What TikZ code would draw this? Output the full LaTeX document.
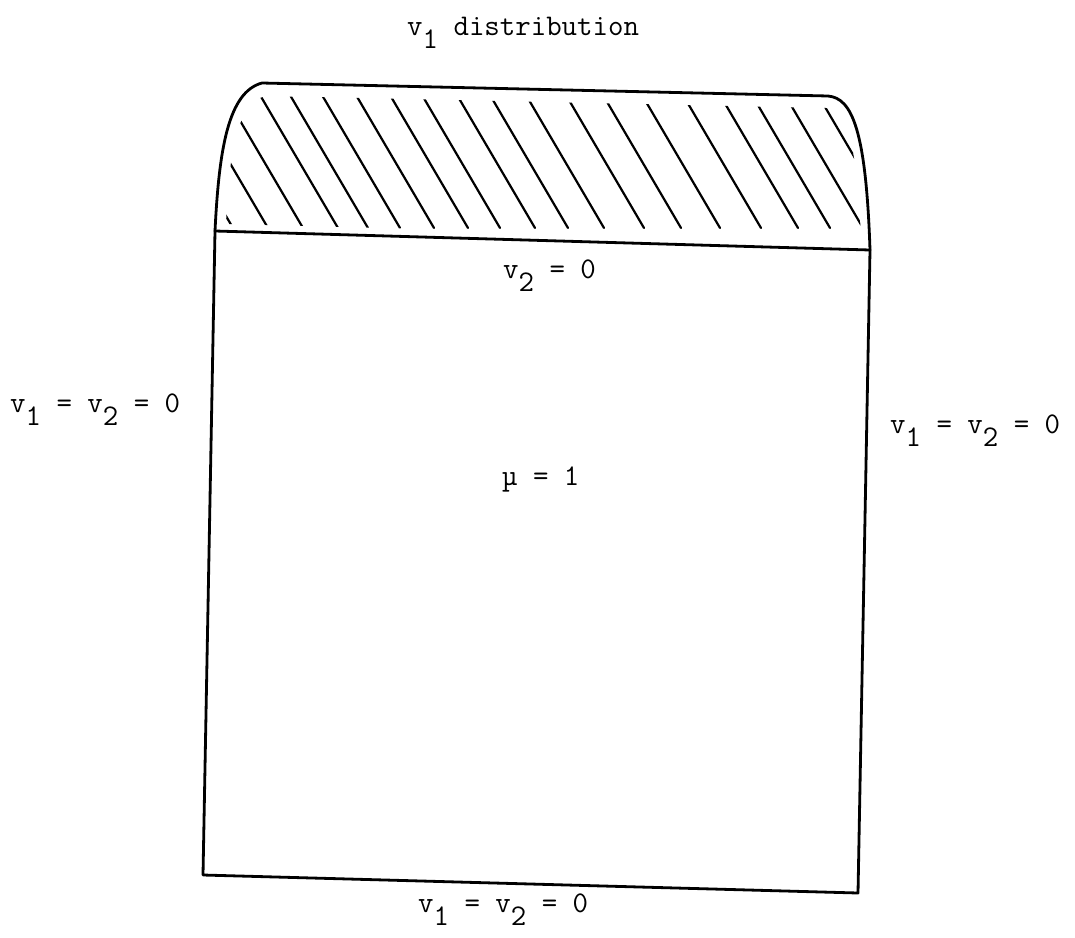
\documentclass[tikz,border=0pt]{standalone}
\newcommand\lowered[1]{\raisebox{-0.45em}{#1}}
\begin{document}
\begin{tikzpicture}[x=1pt,y=-1pt,
  outline/.style={line width=2.8pt, line join=round, line cap=round},
  hatchline/.style={line width=2.2pt, line cap=round},
  lbl/.style={inner sep=0pt, anchor=base west, font=\fontsize{30}{36}\selectfont\ttfamily}]
\useasboundingbox (0,0) rectangle (1075,937);
% corners
\coordinate (SL) at (215,231);
\coordinate (SR) at (870,250);
\coordinate (BL) at (203,875);
\coordinate (BR) at (858,893);
% shaded top region outline
\draw[outline] (SL) .. controls (219,150) and (228,92) .. (262,83) -- (828,96) .. controls (852,98) and (866,130) .. (SR);
\draw[outline] (SL) -- (SR);
% box
\draw[outline] (SL) -- (BL) -- (BR) -- (SR);
% hatching
\begin{scope}
  \clip (226,224) .. controls (229,150) and (238,102) .. (266,96) -- (826,108) .. controls (846,110) and (857,140) .. (861,240) -- cycle;
  \foreach \x in {120,155,190,225,260,290,322,356,390,422,457,490,526,566,603,642,683,720,752,785,818}
    \draw[hatchline] (\x,95) -- ++(78,133);
\end{scope}
% labels
\node[lbl] (title) at (407,35) {v\lowered{1} distribution};
\node[lbl] (topbc) at (503,278) {v\lowered{2} = 0};
\node[lbl] (leftbc) at (10,412) {v\lowered{1} = v\lowered{2} = 0};
\node[lbl] (rightbc) at (890,433) {v\lowered{1} = v\lowered{2} = 0};
\node[lbl] (mu) at (502,485) {µ = 1};
\node[lbl] (bottombc) at (418,912) {v\lowered{1} = v\lowered{2} = 0};
\end{tikzpicture}
\end{document}
